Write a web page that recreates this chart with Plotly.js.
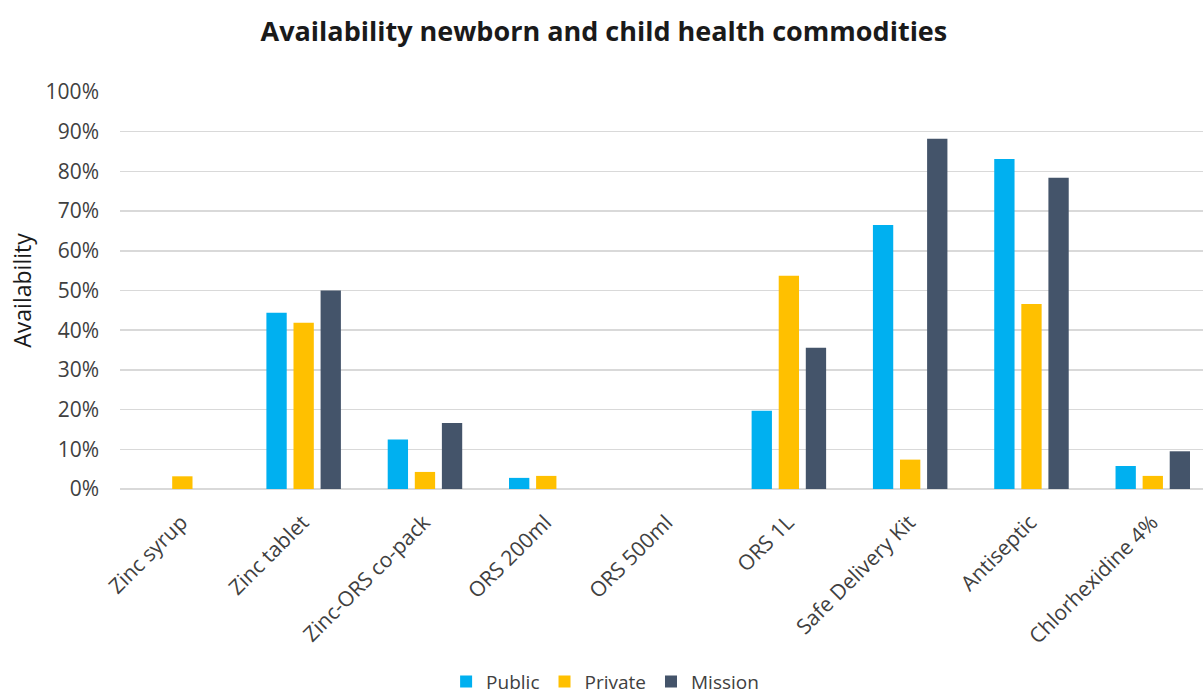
<!DOCTYPE html>
<html>
<head>
<meta charset="utf-8">
<script src="https://cdn.plot.ly/plotly-3.0.1.min.js"></script>
<style>
  html, body { margin: 0; padding: 0; background: #fff; }
  #chart { width: 1203px; height: 697px; }
</style>
</head>
<body>
<div id="chart"></div>
<script>
// Commodity availability (%) by facility type
const categories = [
  "Zinc syrup", "Zinc tablet", "Zinc-ORS co-pack", "ORS 200ml", "ORS 500ml",
  "ORS 1L", "Safe Delivery Kit", "Antiseptic", "Chlorhexidine 4%"
];
const publicValues  = [0, 44.4, 12.5, 2.8, 0, 19.7, 66.5, 83.1, 5.8];
const privateValues = [3.2, 41.9, 4.3, 3.3, 0, 53.7, 7.4, 46.6, 3.3];
const missionValues = [0, 50.0, 16.6, 0, 0, 35.6, 88.2, 78.4, 9.5];
const yTickValues = [0, 10, 20, 30, 40, 50, 60, 70, 80, 90, 100];

const FONT = "'Open Sans', 'Noto Sans', sans-serif";

function barTrace(name, values, color) {
  return {
    type: "bar",
    name: name,
    x: categories,
    y: values,
    marker: { color: color, line: { width: 0 } },
    hoverinfo: "x+y+name"
  };
}

const data = [
  barTrace("Public", publicValues, "#00b0f0"),
  barTrace("Private", privateValues, "#ffc000"),
  barTrace("Mission", missionValues, "#44546a")
];

const layout = {
  width: 1203,
  height: 697,
  paper_bgcolor: "#ffffff",
  plot_bgcolor: "#ffffff",
  margin: { l: 120, r: 0, t: 92, b: 208, autoexpand: false },
  barmode: "group",
  bargap: 0.33,
  bargroupgap: 0.25,
  font: { family: FONT, color: "#595959", size: 21 },
  title: {
    text: "<b>Availability newborn and child health commodities</b>",
    font: { family: FONT, size: 27, color: "#1a1a1a" },
    x: 0.502,
    xref: "container",
    xanchor: "center",
    y: 0.955,
    yref: "container",
    yanchor: "middle"
  },
  xaxis: {
    type: "category",
    automargin: false,
    // the last category runs past the right edge of the frame
    range: [-0.514, 8.414],
    tickangle: -45,
    ticklabelstandoff: 16,
    ticklabelshift: -1,
    tickfont: { family: FONT, size: 21, color: "#404040" },
    showgrid: false,
    showline: false,
    zeroline: false,
    ticks: "",
    fixedrange: true
  },
  yaxis: {
    automargin: false,
    range: [0, 100],
    tickvals: yTickValues,
    ticktext: yTickValues.map(v => v + "%"),
    tickfont: { family: FONT, size: 21, color: "#404040" },
    showgrid: true,
    gridcolor: "#d9d9d9",
    gridwidth: 1.5,
    zeroline: true,
    zerolinecolor: "#d9d9d9",
    zerolinewidth: 1.5,
    showline: false,
    ticks: "",
    ticklabelstandoff: 20,
    title: {
      text: "Availability",
      font: { family: FONT, size: 23, color: "#1a1a1a" },
      standoff: 7
    },
    fixedrange: true
  },
  legend: {
    orientation: "h",
    x: 0.503,
    xref: "container",
    xanchor: "center",
    y: 0.022,
    yref: "container",
    yanchor: "middle",
    font: { family: FONT, size: 19, color: "#404040" },
    itemwidth: 30,
    traceorder: "normal"
  },
  showlegend: true
};

Plotly.newPlot("chart", data, layout, { displayModeBar: false, staticPlot: true });
</script>
</body>
</html>
